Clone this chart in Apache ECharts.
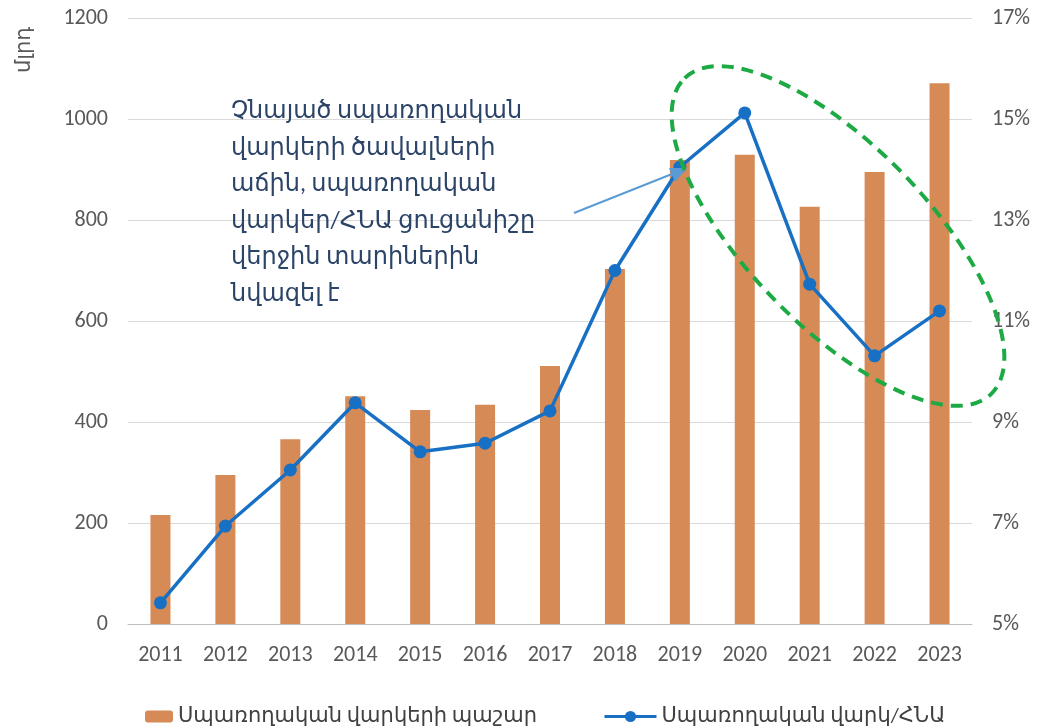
<!DOCTYPE html>
<html>
<head>
<meta charset="utf-8">
<script src="https://cdn.jsdelivr.net/npm/echarts@6/dist/echarts.min.js"></script>
<style>
  html, body { margin: 0; padding: 0; background: #fff; }
  #chart { width: 1038px; height: 728px; }
</style>
</head>
<body>
<div id="chart"></div>
<script>
// տարիներ
var years = ['2011', '2012', '2013', '2014', '2015', '2016', '2017', '2018', '2019', '2020', '2021', '2022', '2023']
// սպառողական վարկերի պաշար, մլրդ դրամ
var stock = [216, 295, 366, 451, 424, 434, 511, 703, 919, 929, 826, 895, 1071]
// սպառողական վարկ / ՀՆԱ, %
var ratio = [5.42, 6.94, 8.05, 9.38, 8.41, 8.58, 9.22, 12.0, 14.05, 15.12, 11.73, 10.31, 11.2]

var barName = 'Սպառողական վարկերի պաշար'
var lineName = 'Սպառողական վարկ/ՀՆԱ'
var note = 'Չնայած սպառողական\nվարկերի ծավալների\nաճին, սպառողական\nվարկեր/ՀՆԱ ցուցանիշը\nվերջին տարիներին\nնվազել է'

var font = 'Calibri, Carlito, "Open Sans", "DejaVu Sans", sans-serif'

var chart = echarts.init(document.getElementById('chart'))
chart.setOption({
  animation: false,
  textStyle: { fontFamily: font },
  grid: { left: 128, right: 66, top: 18, bottom: 104 },
  legend: [
    {
      data: [barName],
      left: 140,
      top: 701,
      itemWidth: 28,
      itemHeight: 12,
      textStyle: { fontSize: 21, color: '#404040', fontFamily: font }
    },
    {
      data: [lineName],
      left: 598,
      top: 701,
      itemWidth: 52,
      itemHeight: 14,
      lineStyle: { width: 3 },
      textStyle: { fontSize: 21, color: '#404040', fontFamily: font }
    }
  ],
  xAxis: {
    type: 'category',
    data: years,
    axisLine: { lineStyle: { color: '#BFBFBF', width: 1 } },
    axisTick: { show: false },
    axisLabel: { color: '#595959', fontSize: 22, margin: 20 }
  },
  yAxis: [
    {
      type: 'value',
      min: 0,
      max: 1200,
      interval: 200,
      axisLine: { show: false },
      axisTick: { show: false },
      splitLine: { lineStyle: { color: '#D9D9D9' } },
      axisLabel: { color: '#595959', fontSize: 22, margin: 20, formatter: function (v) { return String(v) } }
    },
    {
      type: 'value',
      min: 5,
      max: 17,
      interval: 2,
      axisLine: { show: false },
      axisTick: { show: false },
      splitLine: { show: false },
      axisLabel: { color: '#595959', fontSize: 22, margin: 20, formatter: '{value}%' }
    }
  ],
  series: [
    {
      name: barName,
      type: 'bar',
      data: stock,
      barWidth: 20,
      itemStyle: { color: '#D68A56' }
    },
    {
      name: lineName,
      type: 'line',
      yAxisIndex: 1,
      data: ratio,
      symbol: 'circle',
      symbolSize: 13,
      lineStyle: { color: '#1870C4', width: 3.5 },
      itemStyle: { color: '#1870C4' },
      z: 3
    }
  ],
  graphic: [
    {
      type: 'text',
      x: 25,
      y: 50,
      rotation: Math.PI / 2,
      style: {
        text: 'մլրդ',
        fill: '#595959',
        fontSize: 21,
        fontFamily: font,
        align: 'center',
        verticalAlign: 'middle'
      }
    },
    {
      type: 'text',
      x: 231,
      y: 94,
      z: 10,
      style: {
        text: note,
        fill: '#2C4468',
        fontSize: 24,
        lineHeight: 36.5,
        fontFamily: font
      }
    },
    {
      type: 'line',
      z: 10,
      shape: { x1: 574, y1: 213, x2: 672, y2: 174 },
      style: { stroke: '#5B9BD5', lineWidth: 2 }
    },
    {
      type: 'polygon',
      z: 10,
      shape: { points: [[687, 168], [669, 168], [675, 182]] },
      style: { fill: '#5B9BD5' }
    },
    {
      type: 'ellipse',
      z: 10,
      x: 838,
      y: 236,
      rotation: -0.8,
      shape: { cx: 0, cy: 0, rx: 220, ry: 90 },
      style: { fill: 'none', stroke: '#1DAA45', lineWidth: 4, lineDash: [12, 8] }
    }
  ]
})
</script>
</body>
</html>
